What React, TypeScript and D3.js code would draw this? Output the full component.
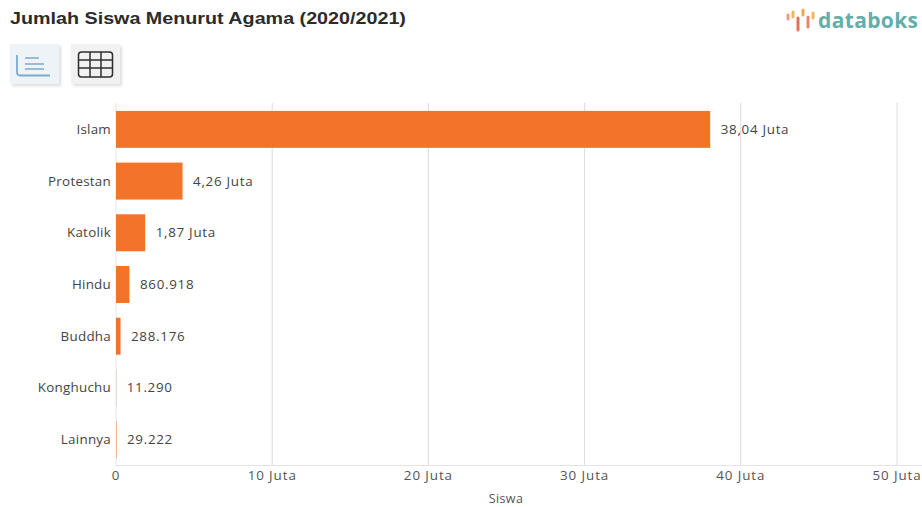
import React from "react";
import * as d3 from "d3";

const categories = ["Islam", "Protestan", "Katolik", "Hindu", "Buddha", "Konghuchu", "Lainnya"];
const students = [38040000, 4260000, 1870000, 860918, 288176, 11290, 29222];
const valueLabels = ["38,04 Juta", "4,26 Juta", "1,87 Juta", "860.918", "288.176", "11.290", "29.222"];
const xTicks = [0, 10000000, 20000000, 30000000, 40000000, 50000000];
const xTickLabels = ["0", "10 Juta", "20 Juta", "30 Juta", "40 Juta", "50 Juta"];
const logoBars = [
  { dx: 0, y1: 15, y2: 19, c: "#ee9a86" },
  { dx: 5, y1: 12, y2: 17, c: "#f2b75c" },
  { dx: 10, y1: 18, y2: 30, c: "#e2705c" },
  { dx: 15, y1: 10, y2: 15, c: "#f2a64e" },
  { dx: 20, y1: 17, y2: 27, c: "#e9866a" },
  { dx: 25, y1: 13, y2: 18, c: "#f2b75c" },
];

const font = "'Open Sans', sans-serif";

export default function App() {
  const x = d3.scaleLinear().domain([0, 50000000]).range([116, 897]);
  const y = d3.scaleBand<string>().domain(categories).range([103.5, 465.5]).paddingInner(0.285).paddingOuter(0.143);

  return (
    <svg width={922} height={507} style={{ position: "fixed", left: 0, top: 0, background: "#fff" }}>
      <defs>
        <filter id="btnShadow" x="-20%" y="-20%" width="150%" height="150%">
          <feDropShadow dx="2" dy="2" stdDeviation="1.5" floodColor="#000" floodOpacity="0.13" />
        </filter>
      </defs>

      <text
        transform="translate(10,24) scale(1.16,1)"
        fontFamily="'Liberation Sans', Arial, sans-serif"
        fontWeight={700}
        fontSize={17}
        fill="#2b2b2b"
      >
        Jumlah Siswa Menurut Agama (2020/2021)
      </text>

      {/* Logo */}
      <g transform="translate(787,0)">
        {logoBars.map((b, i) => (
          <line key={i} x1={b.dx + 1} x2={b.dx + 1} y1={b.y1} y2={b.y2} stroke={b.c} strokeWidth={3} strokeLinecap="round" />
        ))}
      </g>
      <text x={818} y={28} fontFamily={font} fontWeight={700} fontSize={21} letterSpacing={0.35} fill="#62aeab">
        databoks
      </text>

      {/* View toggle buttons */}
      <rect x={10} y={44} width={49} height={40} fill="#eef3f7" filter="url(#btnShadow)" />
      <g fill="none" stroke="#7cabc9" strokeWidth={1.8}>
        <path d="M17 55 V72 Q17 75.5 20 75.5 H50" />
        <path d="M25 58 H39 M25 64 H44 M25 69 H44" strokeWidth={1.4} />
      </g>
      <rect x={71} y={44} width={49} height={40} fill="#f1f1f1" filter="url(#btnShadow)" />
      <g fill="none" stroke="#2f2f2f" strokeWidth={1.5}>
        <rect x={78.5} y={52} width={34} height={25} rx={3} />
        <path d="M78.5 60 H112.5 M78.5 68 H112.5 M90 52 V77 M101 52 V77" />
      </g>

      {/* Gridlines and baseline */}
      {xTicks.slice(1).map((t) => (
        <line key={t} x1={x(t)} x2={x(t)} y1={103} y2={465} stroke="#dcdcdc" strokeWidth={1} />
      ))}
      <line x1={116} x2={922} y1={465.5} y2={465.5} stroke="#e4e4e4" strokeWidth={1} />
      <line x1={116} x2={116} y1={103} y2={465} stroke="#e4e4e4" strokeWidth={1} />

      {/* Bars */}
      {categories.map((c, i) => (
        <rect key={c} x={x(0)} y={y(c)} width={x(students[i]) - x(0)} height={y.bandwidth()} fill="#f37329" />
      ))}

      {/* Category and value labels */}
      <g fontFamily={font} fontSize={13.4} fill="#444">
        {categories.map((c, i) => {
          const cy = (y(c) as number) + y.bandwidth() / 2;
          return (
            <g key={c}>
              <text x={111} y={cy + 4.5} textAnchor="end" letterSpacing={0.25}>{c}</text>
              <text x={x(students[i]) + 10.5} y={cy + 4.5} letterSpacing={0.7}>{valueLabels[i]}</text>
            </g>
          );
        })}
      </g>

      {/* X axis labels */}
      <g fontFamily={font} fontSize={13.4} letterSpacing={0.9} fill="#555">
        {xTicks.map((t, i) => (
          <text key={t} x={x(t)} y={480} textAnchor="middle">{xTickLabels[i]}</text>
        ))}
      </g>
      <text x={506} y={503} textAnchor="middle" fontFamily={font} fontSize={12.5} letterSpacing={0.4} fill="#555">Siswa</text>
    </svg>
  );
}
